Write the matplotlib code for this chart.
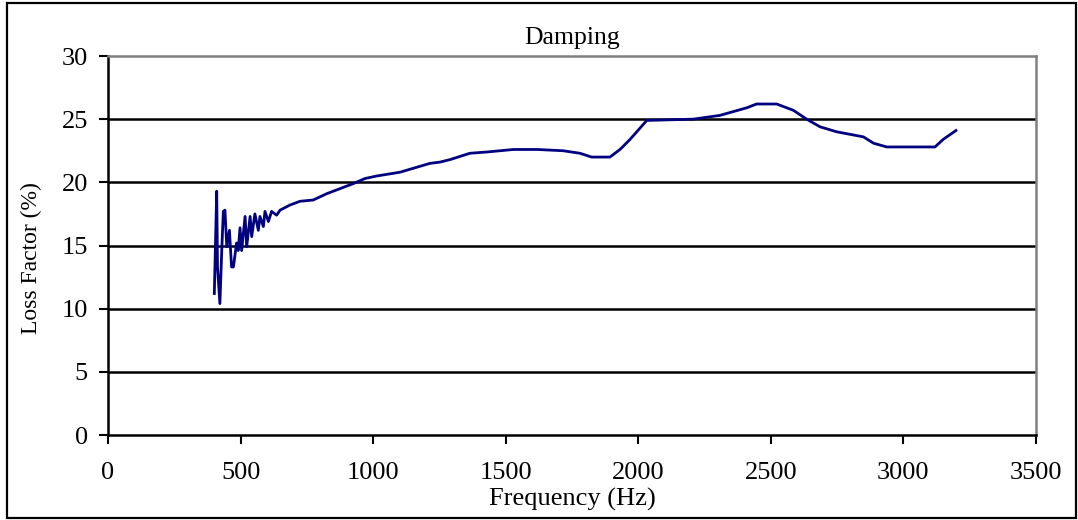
import matplotlib
matplotlib.use("Agg")
import matplotlib.pyplot as plt
from matplotlib.patches import Rectangle

# Damping curve (frequency in Hz, loss factor in %)
freq = [401, 410, 413, 422, 429, 435, 441, 448, 458, 466, 473, 485, 491, 498,
        504, 517, 523, 536, 542, 554, 567, 573, 586, 592, 605, 617, 636, 649,
        686, 724, 774, 825, 875, 925, 969, 1013, 1101, 1214, 1252, 1290, 1365,
        1428, 1529, 1620, 1717, 1780, 1824, 1893, 1931, 1969, 2032, 2207, 2308,
        2409, 2446, 2522, 2585, 2635, 2685, 2748, 2849, 2887, 2937, 3025, 3119,
        3150, 3198]
loss = [11.2, 19.3, 13.3, 10.4, 14.6, 17.7, 17.8, 14.9, 16.2, 13.3, 13.3, 15.2,
        14.6, 16.4, 14.6, 17.3, 14.9, 17.3, 15.7, 17.5, 16.2, 17.3, 16.5, 17.7,
        16.9, 17.7, 17.4, 17.8, 18.2, 18.5, 18.6, 19.1, 19.5, 19.9, 20.3, 20.5,
        20.8, 21.5, 21.6, 21.8, 22.3, 22.4, 22.6, 22.6, 22.5, 22.3, 22.0, 22.0,
        22.6, 23.4, 24.9, 25.0, 25.3, 25.9, 26.2, 26.2, 25.7, 25.0, 24.4, 24.0,
        23.6, 23.1, 22.8, 22.8, 22.8, 23.4, 24.1]

xticks = [0, 500, 1000, 1500, 2000, 2500, 3000, 3500]
yticks = [0, 5, 10, 15, 20, 25, 30]

plt.rcParams["font.family"] = ["Liberation Serif", "DejaVu Serif"]

fig = plt.figure(figsize=(10.78, 5.2), dpi=100)
ax = fig.add_axes([108 / 1078, 85 / 520, 928 / 1078, 379 / 520])

# horizontal gridlines
for yv in yticks[1:-1]:
    ax.axhline(yv, color="black", lw=1.8, zorder=1)

ax.plot(freq, loss, color="#000080", lw=2.0, zorder=3)

ax.set_xlim(0, 3500)
ax.set_ylim(0, 30)
ax.set_xticks(xticks)
ax.set_yticks(yticks)
ax.tick_params(axis="both", direction="out", length=6.5, width=1.5,
               labelsize=19, colors="black")
ax.tick_params(axis="y", pad=8)
ax.tick_params(axis="x", pad=13)

ax.spines["left"].set_linewidth(1.8)
ax.spines["bottom"].set_linewidth(1.8)
ax.spines["top"].set_color("#808080")
ax.spines["right"].set_color("#808080")
ax.spines["top"].set_linewidth(1.8)
ax.spines["right"].set_linewidth(1.8)

ax.set_title("Damping", fontsize=18.5, pad=9)
ax.set_xlabel("Frequency (Hz)", fontsize=19, labelpad=3)
ax.set_ylabel("Loss Factor (%)", fontsize=17)
ax.yaxis.set_label_coords(-0.071, 0.467)

# outer frame around the whole chart
fig.patches.append(Rectangle((7 / 1078, 2 / 520), 1069 / 1078, 515 / 520,
                             transform=fig.transFigure, fill=False,
                             edgecolor="black", lw=1.6))

fig.savefig("out.png", dpi=100)
